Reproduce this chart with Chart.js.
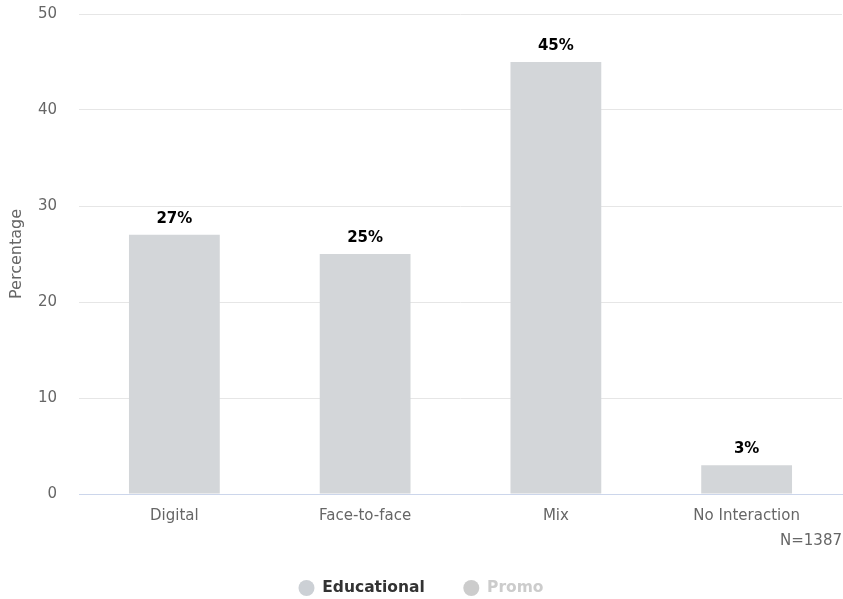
<!DOCTYPE html>
<html lang="en">
<head>
    <meta charset="UTF-8"/>
    <title>Interaction</title>
    <script src="https://cdn.jsdelivr.net/npm/chart.js"></script>
    <style>
        html, body { margin: 0; padding: 0; background: #fff; }
        .chart-container { width: 843px; height: 599px; }
    </style>
</head>
<body>
    <div class="chart-container">
        <canvas id="myChart"></canvas>
    </div>
    <script>
        // data
        var categorias = ['Digital', 'Face-to-face', 'Mix', 'No Interaction'];
        var educational = [27, 25, 45, 3];
        var promo = [];
        var yTicks = [0, 10, 20, 30, 40, 50];
        var amostra = 'N=1387';

        var fonte = 'DejaVu Sans';
        var LEGEND_TOP = 541.75;

        // percent labels above bars
        var rotulos = {
            id: 'rotulos',
            afterDatasetsDraw: function (chart) {
                var ctx = chart.ctx;
                var meta = chart.getDatasetMeta(0);
                if (meta.hidden) return;
                ctx.save();
                ctx.font = 'bold 15px ' + fonte;
                ctx.fillStyle = '#000';
                ctx.textAlign = 'center';
                ctx.textBaseline = 'alphabetic';
                meta.data.forEach(function (bar, i) {
                    ctx.fillText(educational[i] + '%', bar.x, bar.y - 12);
                });
                ctx.restore();
            }
        };

        var ctx = document.getElementById('myChart').getContext('2d');
        var myChart = new Chart(ctx, {
            type: 'bar',
            data: {
                labels: categorias,
                datasets: [{
                    label: 'Educational',
                    data: educational,
                    backgroundColor: '#d3d6d9',
                    borderWidth: 0,
                    categoryPercentage: 1,
                    barPercentage: 0.476
                }, {
                    label: 'Promo',
                    data: promo,
                    backgroundColor: '#cccccc',
                    hidden: true,
                    categoryPercentage: 1,
                    barPercentage: 0.476
                }]
            },
            options: {
                responsive: true,
                maintainAspectRatio: false,
                animation: false,
                events: [],
                layout: {
                    padding: { top: 14, right: 1, left: 0, bottom: -6.75 }
                },
                plugins: {
                    tooltip: { enabled: false },
                    legend: {
                        position: 'bottom',
                        labels: {
                            usePointStyle: true,
                            pointStyle: 'circle',
                            boxHeight: 11.3,
                            pointStyleWidth: 16,
                            padding: 38.5,
                            font: { family: fonte, size: 15.5, weight: 'bold' },
                            generateLabels: function (chart) {
                                return chart.data.datasets.map(function (ds, i) {
                                    var off = !chart.isDatasetVisible(i);
                                    return {
                                        text: ds.label,
                                        fillStyle: off ? '#cccccc' : '#ccd0d5',
                                        strokeStyle: off ? '#cccccc' : '#ccd0d5',
                                        lineWidth: 0,
                                        fontColor: off ? '#cccccc' : '#333333',
                                        pointStyle: 'circle',
                                        hidden: false,
                                        datasetIndex: i
                                    };
                                });
                            }
                        }
                    }
                },
                scales: {
                    x: {
                        grid: { display: false, drawTicks: false },
                        border: { color: '#ccd6eb', width: 1 },
                        ticks: {
                            color: '#666666',
                            padding: 13,
                            maxRotation: 0,
                            font: { family: fonte, size: 15 }
                        },
                        title: {
                            display: true,
                            text: amostra,
                            align: 'end',
                            color: '#666666',
                            padding: { top: 0, bottom: -8.25 },
                            font: { family: fonte, size: 15 }
                        },
                        afterFit: function (scale) {
                            scale.height = LEGEND_TOP - 494;
                        }
                    },
                    y: {
                        min: 0,
                        max: 50,
                        afterBuildTicks: function (scale) {
                            scale.ticks = yTicks.map(function (v) { return { value: v }; });
                        },
                        grid: { color: '#e6e6e6', drawTicks: false },
                        border: { display: false },
                        ticks: {
                            color: '#666666',
                            padding: 22,
                            font: { family: fonte, size: 15 }
                        },
                        title: {
                            display: true,
                            text: 'Percentage',
                            color: '#666666',
                            padding: { top: 7, bottom: 4 },
                            font: { family: fonte, size: 16 }
                        },
                        afterFit: function (scale) {
                            scale.width = 79;
                            scale.paddingTop = 9;
                            scale.paddingBottom = 9;
                        }
                    }
                }
            },
            plugins: [rotulos]
        });
    </script>
</body>
</html>
